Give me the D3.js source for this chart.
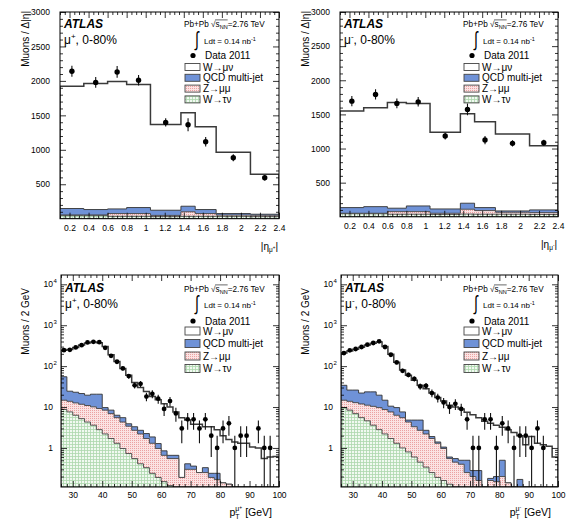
<!DOCTYPE html>
<html>
<head>
<meta charset="utf-8">
<script src="https://cdn.jsdelivr.net/npm/d3@7"></script>
<style>
body { margin: 0; background: #fff; }
text { font-family: "Liberation Sans", Arial, Helvetica, sans-serif; }
</style>
</head>
<body>
<svg id="chart"></svg>
<script>
// ---- eta binning ----
const etaEdges = [0.1, 0.35, 0.6, 0.8, 1.05, 1.37, 1.52, 1.74, 2.1, 2.4];
const etaCenters = [0.225, 0.475, 0.7, 0.925, 1.21, 1.445, 1.63, 1.92, 2.25];
const etaTicks = [0.2, 0.4, 0.6, 0.8, 1, 1.2, 1.4, 1.6, 1.8, 2, 2.2, 2.4];
const etaYTicks = [500, 1000, 1500, 2000, 2500, 3000];

// mu+ vs |eta|
const etaPlusData = [2140, 1977, 2130, 2010, 1397, 1363, 1117, 885, 595];
const etaPlusErr = [80, 78, 85, 75, 60, 95, 70, 50, 40];
const etaPlusMC = [1923, 1962, 1991, 1947, 1368, 1537, 1334, 963, 644];
const etaPlusQCD = [93, 78, 67, 87, 75, 81, 58, 22, 15];
const etaPlusZ = [10, 10, 40, 40, 18, 65, 40, 18, 20];
const etaPlusTau = [45, 45, 35, 35, 30, 35, 35, 35, 30];

// mu- vs |eta|
const etaMinusData = [1694, 1792, 1661, 1684, 1183, 1573, 1124, 1076, 1085];
const etaMinusErr = [75, 75, 72, 70, 50, 85, 60, 45, 45];
const etaMinusMC = [1548, 1597, 1675, 1661, 1237, 1509, 1392, 1212, 1041];
const etaMinusQCD = [83, 97, 50, 83, 63, 88, 44, 19, 40];
const etaMinusZ = [7, 7, 38, 38, 17, 71, 53, 29, 26];
const etaMinusTau = [45, 45, 38, 38, 35, 40, 38, 38, 35];

// ---- pT binning (2 GeV bins, 26-100) ----
const ptEdges = d3.range(26, 101, 2);
const ptTicks = [30, 40, 50, 60, 70, 80, 90, 100];
const ptYTicks = [1, 10, 100, 1000, 10000];

// mu+ vs pT
const ptPlusData = [246, 250, 287, 326, 380, 394, 385, 281, 179, 128, 88, 57, 34, 37, 18, 21, 16, 9, 14, 7,
  3, 5, 5, 3, 5, 2, 1, 3, 4, 1, 2, 2, 0, 3, 1, 1, 0];
const ptPlusErr = [15.7, 15.8, 16.9, 18.1, 19.5, 19.8, 19.6, 16.8, 13.4, 11.3, 9.4, 7.5, 5.8, 6.1, 4.2, 4.6, 4.0, 3.0, 3.7, 2.6,
  1.7, 2.2, 2.2, 1.7, 2.2, 1.4, 1.0, 1.7, 2.0, 1.0, 1.4, 1.4, 0, 1.7, 1.0, 1.0, 0];
const ptPlusMC = [245, 255, 285, 330, 370, 390, 375, 300, 190, 130, 88, 60, 40, 30, 24, 18, 15, 12, 10, 7.6,
  5.5, 4.8, 3.8, 3.8, 3.3, 3.3, 2.8, 2.0, 1.6, 1.4, 1.3, 1.3, 1.05, 1.0, 0.55, 0.6, 0.62];
const ptPlusQCD = [40.3, 10.6, 10.4, 9.7, 8.6, 10.5, 11.4, 1.3, 1.5, 0.8, 1.2, 0.5, 0.6, 0.5, 0.55, 0.56, 0.31, 0.19, 0.11, 0.11,
  0, 0.11, 0.06, 0, 0.08, 0.05, 0.07, 0, 0, 0, 0, 0, 0, 0, 0, 0, 0];
const ptPlusZ = [6.0, 6.2, 6.3, 6.5, 6.6, 6.5, 6.4, 6.2, 5.2, 4.2, 3.33, 2.67, 2.15, 1.79, 1.37, 1.06, 0.78, 0.51, 0.43, 0.55,
  0.19, 0.3, 0.3, 0.25, 0.25, 0.19, 0.17, 0.14, 0.13, 0, 0, 0, 0, 0, 0, 0, 0];
const ptPlusTau = [8.7, 7.6, 6.3, 5.2, 4.3, 3.6, 2.8, 2.2, 1.7, 1.3, 0.97, 0.73, 0.55, 0.41, 0.33, 0.24, 0.19, 0.15, 0.12, 0,
  0, 0, 0, 0, 0, 0, 0, 0, 0, 0, 0, 0, 0, 0, 0, 0, 0];

// mu- vs pT
const ptMinusData = [209, 243, 262, 294, 334, 368, 404, 294, 190, 123, 77, 61, 49, 32, 33, 22, 17, 13, 10, 12,
  9, 5, 1, 1, 5, 5, 1, 4, 3, 1, 2, 2, 1, 3, 1, 0, 0];
const ptMinusErr = [14.5, 15.6, 16.2, 17.1, 18.3, 19.2, 20.1, 17.1, 13.8, 11.1, 8.8, 7.8, 7.0, 5.7, 5.7, 4.7, 4.1, 3.6, 3.2, 3.5,
  3.0, 2.2, 1.0, 1.0, 2.2, 2.2, 1.0, 2.0, 1.7, 1.0, 1.4, 1.4, 1.0, 1.7, 1.0, 0, 0];
const ptMinusMC = [210, 235, 260, 290, 330, 365, 390, 300, 195, 125, 80, 60, 45, 34, 28, 22, 17, 14, 11, 10,
  9, 7.5, 6.5, 5.5, 4.5, 4, 3.6, 3.2, 2.8, 2.4, 2.0, 1.2, 1.9, 1.3, 1.2, 1.1, 0.6];
const ptMinusQCD = [19.3, 12.2, 13.2, 10.1, 12.4, 13.1, 9.8, 6.0, 2.9, 3.4, 2.1, 0.5, 1.5, 2.1, 0.5, 0.2, 0.1, 0.08, 0.05, 0.1,
  0.1, 0.25, 0.08, 0.12, 0, 0.02, 0.05, 0.3, 0, 0, 0.17, 0, 0, 0, 0, 0, 0];
const ptMinusZ = [5.0, 5.4, 5.9, 6.4, 6.5, 6.8, 6.9, 6.5, 5.9, 5.0, 4.5, 3.5, 2.7, 2.25, 1.86, 1.45, 1.11, 0.81, 0.42, 0.45,
  0.4, 0.25, 0.2, 0.16, 0, 0.16, 0.15, 0.2, 0.14, 0, 0, 0, 0, 0, 0, 0, 0];
const ptMinusTau = [9.7, 8.4, 6.9, 5.5, 4.6, 3.6, 2.8, 2.2, 1.7, 1.3, 1.0, 0.8, 0.6, 0.45, 0.34, 0.25, 0.19, 0.16, 0.13, 0,
  0, 0, 0, 0, 0, 0, 0, 0, 0, 0, 0, 0, 0, 0, 0, 0, 0];

const legendLabels = ["W\u2192\u03bc\u03bd", "QCD multi-jet", "Z\u2192\u03bc\u03bc", "W\u2192\u03c4\u03bd"];

const width = 585, height = 526;
const svg = d3.select("#chart").attr("width", width).attr("height", height);
const defs = svg.append("defs");

// fill patterns (ROOT-like hatches)
const zPat = defs.append("pattern").attr("id", "zpat")
  .attr("width", 2).attr("height", 2).attr("patternUnits", "userSpaceOnUse");
zPat.append("rect").attr("width", 2).attr("height", 2).attr("fill", "#fbe3e3");
zPat.append("rect").attr("width", 1).attr("height", 1).attr("fill", "#eba2a2");

const tauPat = defs.append("pattern").attr("id", "taupat")
  .attr("width", 3).attr("height", 3).attr("patternUnits", "userSpaceOnUse");
tauPat.append("rect").attr("width", 3).attr("height", 3).attr("fill", "#f1f9f1");
tauPat.append("rect").attr("width", 3).attr("height", 0.8).attr("fill", "#aed8ae");
tauPat.append("rect").attr("width", 0.8).attr("height", 3).attr("fill", "#aed8ae");

const qcdColor = "#6f92d7";

const panels = [
  { id: "tl", x0: 60, x1: 279, y0: 12, y1: 218.7, kind: "eta", sign: "+",
    data: etaPlusData, err: etaPlusErr, mc: etaPlusMC, qcd: etaPlusQCD, z: etaPlusZ, tau: etaPlusTau },
  { id: "tr", x0: 340, x1: 558, y0: 12, y1: 216.8, kind: "eta", sign: "-",
    data: etaMinusData, err: etaMinusErr, mc: etaMinusMC, qcd: etaMinusQCD, z: etaMinusZ, tau: etaMinusTau },
  { id: "bl", x0: 61, x1: 279, y0: 275, y1: 487, kind: "pt", sign: "+",
    data: ptPlusData, err: ptPlusErr, mc: ptPlusMC, qcd: ptPlusQCD, z: ptPlusZ, tau: ptPlusTau },
  { id: "br", x0: 341, x1: 558, y0: 275, y1: 487, kind: "pt", sign: "-",
    data: ptMinusData, err: ptMinusErr, mc: ptMinusMC, qcd: ptMinusQCD, z: ptMinusZ, tau: ptMinusTau }
];

function stepPoints(edges, vals) {
  const pts = [];
  vals.forEach((v, i) => {
    pts.push([edges[i], v]);
    pts.push([edges[i + 1], v]);
  });
  return pts;
}

function drawPanel(p) {
  const isEta = p.kind === "eta";
  const edges = isEta ? etaEdges : ptEdges;
  const centers = isEta ? etaCenters : edges.slice(0, -1).map((e, i) => (e + edges[i + 1]) / 2);
  const yMin = isEta ? 0 : 0.111;

  const x = d3.scaleLinear().domain(isEta ? [0.1, 2.4] : [26, 100]).range([p.x0, p.x1]);
  const y = isEta
    ? d3.scaleLinear().domain([0, 3000]).range([p.y1, p.y0])
    : d3.scaleLog().domain([yMin, 16900]).range([p.y1, p.y0]);
  const yv = v => y(Math.max(v, isEta ? 0 : yMin));

  defs.append("clipPath").attr("id", "clip-" + p.id)
    .append("rect").attr("x", p.x0).attr("y", p.y0)
    .attr("width", p.x1 - p.x0).attr("height", p.y1 - p.y0);

  const g = svg.append("g");
  const plot = g.append("g").attr("clip-path", `url(#clip-${p.id})`);

  // cumulative stack: tau, tau+Z, tau+Z+QCD, then total MC
  const c1 = p.tau;
  const c2 = p.tau.map((v, i) => v + p.z[i]);
  const c3 = c2.map((v, i) => v + p.qcd[i]);

  const area = d3.area()
    .x(d => x(d[0]))
    .y0(p.y1)
    .y1(d => yv(d[1]));

  const layers = [
    { vals: p.mc, fill: "#fff", stroke: "#3a3a3a", sw: 1.5 },
    { vals: c3, fill: qcdColor, stroke: "#333", sw: 0.9 },
    { vals: c2, fill: "url(#zpat)", stroke: "#444", sw: 0.9 },
    { vals: c1, fill: "url(#taupat)", stroke: "#444", sw: 0.9 }
  ];
  layers.forEach(l => {
    plot.append("path")
      .attr("d", area(stepPoints(edges, l.vals)))
      .attr("fill", l.fill)
      .attr("stroke", l.stroke)
      .attr("stroke-width", l.sw);
  });

  // data points with error bars
  const pts = p.data.map((v, i) => ({ x: centers[i], v: v, e: p.err[i] })).filter(d => d.v > 0);
  plot.selectAll(".err").data(pts).enter().append("line")
    .attr("x1", d => x(d.x)).attr("x2", d => x(d.x))
    .attr("y1", d => (d.v - d.e > yMin ? y(d.v - d.e) : p.y1))
    .attr("y2", d => y(d.v + d.e))
    .attr("stroke", "#111").attr("stroke-width", 1.1);
  plot.selectAll(".pt").data(pts).enter().append("circle")
    .attr("cx", d => x(d.x)).attr("cy", d => y(d.v))
    .attr("r", isEta ? 2.7 : 2.4)
    .attr("fill", "#000");

  // axes
  const xMajor = isEta ? etaTicks : ptTicks;
  const xMinor = isEta
    ? d3.range(0.1, 2.401, 0.05).filter(t => !xMajor.some(m => Math.abs(m - t) < 1e-6))
    : d3.range(26, 100.01, 2).filter(t => t % 10 !== 0);
  let yMajor, yMinor;
  if (isEta) {
    yMajor = etaYTicks;
    yMinor = d3.range(100, 3000, 100).filter(t => t % 500 !== 0);
  } else {
    yMajor = ptYTicks;
    yMinor = [];
    [0.1, 1, 10, 100, 1000, 10000].forEach(d => {
      for (let k = 2; k <= 9; k++) {
        const t = d * k;
        if (t > yMin && t < 16900) yMinor.push(t);
      }
    });
  }

  const axes = g.append("g");
  const xPad = isEta ? 6.5 : 5;
  axes.append("g").attr("transform", `translate(0,${p.y1})`)
    .call(d3.axisBottom(x).tickValues(xMajor).tickSize(-6).tickPadding(xPad).tickFormat(d3.format("~g")));
  axes.append("g").attr("transform", `translate(0,${p.y1})`)
    .call(d3.axisBottom(x).tickValues(xMinor).tickSize(-3).tickFormat(""));
  axes.append("g").attr("transform", `translate(0,${p.y0})`)
    .call(d3.axisTop(x).tickValues(xMajor).tickSize(-6).tickFormat(""));
  axes.append("g").attr("transform", `translate(0,${p.y0})`)
    .call(d3.axisTop(x).tickValues(xMinor).tickSize(-3).tickFormat(""));
  axes.append("g").attr("transform", `translate(${p.x0},0)`)
    .call(d3.axisLeft(y).tickValues(yMajor).tickSize(-6).tickPadding(10)
      .tickFormat(isEta ? d3.format("d") : ""));
  axes.append("g").attr("transform", `translate(${p.x0},0)`)
    .call(d3.axisLeft(y).tickValues(yMinor).tickSize(-3).tickFormat(""));
  axes.append("g").attr("transform", `translate(${p.x1},0)`)
    .call(d3.axisRight(y).tickValues(yMajor).tickSize(-6).tickFormat(""));
  axes.append("g").attr("transform", `translate(${p.x1},0)`)
    .call(d3.axisRight(y).tickValues(yMinor).tickSize(-3).tickFormat(""));
  axes.selectAll(".domain").remove();
  axes.selectAll(".tick line").attr("stroke", "#000").attr("stroke-width", 0.8);
  axes.selectAll("g").attr("font-family", null).attr("font-size", null);
  axes.selectAll(".tick text").attr("font-size", 8.5).attr("fill", "#000");

  // log axis labels: 1, 10, 10^2, 10^3, 10^4
  if (!isEta) {
    yMajor.forEach(t => {
      const e = Math.round(Math.log10(t));
      const base = e === 0 ? "1" : "10";
      g.append("text").attr("x", p.x0 - 8).attr("y", y(t) + 3)
        .attr("text-anchor", "end").attr("font-size", 8.5).text(base);
      if (e >= 2) {
        g.append("text").attr("x", p.x0 - 7.5).attr("y", y(t) - 1.5)
          .attr("font-size", 6).text(e);
      }
    });
  }

  // frame
  g.append("rect").attr("x", p.x0).attr("y", p.y0)
    .attr("width", p.x1 - p.x0).attr("height", p.y1 - p.y0)
    .attr("fill", "none").attr("stroke", "#000").attr("stroke-width", 1);

  // axis titles
  const yTitle = g.append("text")
    .attr("transform", `translate(${p.x0 - (isEta ? 31 : 32)},${isEta ? p.y0 - 1 : p.y0 + 13}) rotate(-90)`)
    .attr("text-anchor", "end").attr("font-size", 10);
  if (isEta) {
    yTitle.text("Muons / \u0394|\u03b7|");
  } else {
    yTitle.text("Muons / 2 GeV");
  }

  if (isEta) {
    const xt = g.append("text").attr("x", p.x1 - 1).attr("y", p.y1 + 31)
      .attr("text-anchor", "end").attr("font-size", 10);
    xt.append("tspan").text("|\u03b7");
    xt.append("tspan").attr("font-size", 6.5).attr("dy", 2.5).text("\u03bc");
    xt.append("tspan").attr("font-size", 4.5).attr("dy", -3).text(p.sign);
    xt.append("tspan").attr("dy", 0.5).text("|");
  } else {
    const xt = g.append("text").attr("x", p.x1 - 7).attr("y", p.y1 + 29)
      .attr("text-anchor", "end").attr("font-size", 10.5);
    xt.append("tspan").text("p");
    xt.append("tspan").attr("font-size", 7).attr("dy", 3).text("T");
    xt.append("tspan").attr("font-size", 7).attr("dx", -4.3).attr("dy", -8).text("\u03bc");
    xt.append("tspan").attr("font-size", 5).attr("dy", -2).text(p.sign);
    xt.append("tspan").attr("dy", 7).text(" [GeV]");
  }

  // ATLAS label and charge / centrality
  const aY = isEta ? 15.5 : 17;
  g.append("text").attr("x", p.x0 + 4).attr("y", p.y0 + aY)
    .attr("font-size", 12).attr("font-weight", "bold").attr("font-style", "italic")
    .text("ATLAS");
  const mu = g.append("text").attr("x", p.x0 + 4).attr("y", p.y0 + aY + 16)
    .attr("font-size", 12);
  mu.append("tspan").text("\u03bc");
  mu.append("tspan").attr("font-size", 8).attr("dy", -5).text(p.sign);
  mu.append("tspan").attr("dy", 5).text(", 0-80%");

  // legend
  const L = isEta
    ? { pb: 14.5, ldt: 32, intY: 33.5, data: 43.5, rows: [55, 65.8, 76.6, 87.4], bh: 7 }
    : { pb: 16.5, ldt: 33, intY: 35, data: 46, rows: [56, 68.5, 81, 93.5], bh: 8 };

  const pb = g.append("text").attr("x", p.x1 - 95).attr("y", p.y0 + L.pb).attr("font-size", 8.2);
  pb.append("tspan").text("Pb+Pb ");
  pb.append("tspan").text("\u221a");
  pb.append("tspan").text("s");
  pb.append("tspan").attr("font-size", 5.5).attr("dy", 2).text("NN");
  pb.append("tspan").attr("dy", -2).text("=2.76 TeV");
  const pbNode = pb.node();
  const ox0 = pbNode.getStartPositionOfChar(6).x + 4;
  const ox1 = pbNode.getEndPositionOfChar(9).x;
  g.append("line").attr("x1", ox0).attr("x2", ox1)
    .attr("y1", p.y0 + L.pb - 6.6).attr("y2", p.y0 + L.pb - 6.6)
    .attr("stroke", "#000").attr("stroke-width", 0.6);

  // tall thin integral sign
  g.append("text")
    .attr("transform", `translate(${p.x1 - 84},${p.y0 + L.intY}) scale(1,1.45)`)
    .attr("font-size", 14).text("\u222b");
  const ldt = g.append("text").attr("x", p.x1 - 75).attr("y", p.y0 + L.ldt).attr("font-size", 8);
  ldt.append("tspan").text("Ldt = 0.14 nb");
  ldt.append("tspan").attr("font-size", 5.5).attr("dy", -3.5).text("-1");

  g.append("circle").attr("cx", p.x1 - 86).attr("cy", p.y0 + L.data).attr("r", 2.6).attr("fill", "#000");
  g.append("text").attr("x", p.x1 - 74).attr("y", p.y0 + L.data + 3.6)
    .attr("font-size", 10).text("Data 2011");

  const boxFills = ["#fff", qcdColor, "url(#zpat)", "url(#taupat)"];
  legendLabels.forEach((lab, i) => {
    const cy = p.y0 + L.rows[i];
    g.append("rect").attr("x", p.x1 - 94).attr("y", cy - L.bh / 2)
      .attr("width", 15).attr("height", L.bh)
      .attr("fill", boxFills[i]).attr("stroke", "#444").attr("stroke-width", 0.9);
    g.append("text").attr("x", p.x1 - 76).attr("y", cy + 3.6)
      .attr("font-size", 10).text(lab);
  });
}

panels.forEach(drawPanel);
</script>
</body>
</html>
